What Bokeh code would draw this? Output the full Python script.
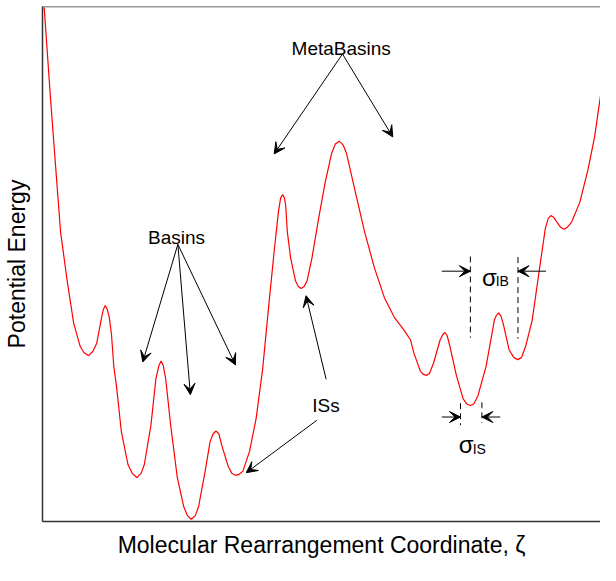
from bokeh.plotting import figure
from bokeh.models import Range1d, Label, Arrow, VeeHead, Span, FixedTicker, Title
from bokeh.embed import file_html
from bokeh.resources import INLINE

# Potential-energy landscape (zeta: coordinate, energy: arbitrary units)
zeta = [1.7, 8.3, 13.3, 18.3, 25, 31.7, 38.3, 42, 46.7, 51, 55, 60, 61.8, 63.7, 65.6, 67.7,
        70, 72.3, 75, 80, 86.7, 91, 95.7, 100, 103.3, 110, 115, 118.2, 120.3, 122.4, 125,
        130, 136.7, 143.3, 147, 151, 155, 158.3, 165, 170, 173, 176, 179, 181.7, 188.3, 192,
        195.7, 199.5, 203.3, 210, 216.7, 223.3, 230, 235, 239.3, 241.5, 243.7, 245.5, 246.7,
        248.3, 251.7, 256.7, 259.5, 262.3, 265.3, 268.3, 273.3, 280, 286.7, 293.3, 297, 301,
        305, 308.3, 316.7, 326.7, 336.7, 346.7, 356.7, 366.7, 373.3, 376.7, 383.3, 386, 389.3,
        392.5, 396.7, 403.3, 406, 408.3, 410.5, 413.3, 420, 426.7, 430.5, 434, 437.5, 441.7,
        450, 458.3, 460.5, 462.7, 465, 467.3, 473.3, 478, 482, 486, 490, 496.7, 503.3, 510,
        513, 515.7, 518.5, 521.7, 525.5, 529, 532.5, 536.7, 545, 553.3, 560, 566]
energy = [523, 428, 361.3, 295, 245, 201.3, 178, 172, 168.7, 173, 181.3, 208, 216, 219.7, 216, 208,
          190, 158, 138, 91.3, 58, 49, 44.7, 49, 58, 98, 145, 159, 163.3, 159, 145,
          98, 45, 15, 6, 2.3, 6, 15, 51.3, 81.3, 89, 92.3, 89, 78, 56.3, 49,
          47, 48, 51.3, 71.3, 105, 155, 225, 275, 315, 329, 332.7, 329, 321.3,
          295, 268, 244.7, 239, 237, 239, 244.7, 268, 308, 344.7, 374.7, 384, 387,
          383, 374.7, 338, 294.7, 258, 228, 208, 194.7, 184.7, 171.3, 153, 150, 148.7,
          150.5, 161.3, 184.7, 190, 192.3, 189, 178, 148, 124.7, 119.5, 118, 119.5, 128,
          158, 204.7, 210, 212.3, 209, 201.3, 174.7, 167, 164.7, 167, 178, 204.7, 251.3, 298,
          308.5, 311.3, 309.5, 304.7, 299.5, 297.3, 299.5, 304.7, 324.7, 358, 391.3, 433]

x_title = "Molecular Rearrangement Coordinate, ζ"
y_title = "Potential Energy"

FONT = "Liberation Sans"

p = figure(width=600, height=565, output_backend="svg", toolbar_location=None,
           x_range=Range1d(0, 566), y_range=Range1d(0, 524),
           min_border_left=42, min_border_right=0, min_border_top=6, min_border_bottom=43)
p.outline_line_color = None
p.grid.visible = False
p.background_fill_color = "white"
p.border_fill_color = "white"

for ax in (p.xaxis[0], p.yaxis[0]):
    ax.ticker = FixedTicker(ticks=[], minor_ticks=[])
    ax.major_tick_out = 0
    ax.major_tick_in = 0
    ax.minor_tick_out = 0
    ax.minor_tick_in = 0
    ax.major_label_text_font_size = "0px"
    ax.major_label_standoff = 0
    ax.axis_line_color = "#333333"
    ax.axis_line_width = 1.5

p.yaxis.axis_label = y_title
p.yaxis.axis_label_text_font = FONT
p.yaxis.axis_label_text_font_size = "23px"
p.yaxis.axis_label_text_font_style = "normal"
p.yaxis.axis_label_text_color = "black"
p.yaxis.axis_label_standoff = 13

p.add_layout(Title(text=x_title, align="center", offset=8, standoff=16,
                   text_font=FONT, text_font_size="23px", text_font_style="normal",
                   text_color="black"), "below")

p.add_layout(Span(location=524, dimension="width", line_color="#333333", line_width=1.5))

p.line(zeta, energy, line_color="red", line_width=1.2)

# annotations
def arrow(x0, y0, x1, y1):
    p.add_layout(Arrow(end=VeeHead(size=11, fill_color="black", line_color="black", line_width=1),
                       x_start=x0, y_start=y0, x_end=x1, y_end=y1,
                       line_color="black", line_width=1))

def label(x, y, text, size="19px", align="center"):
    p.add_layout(Label(x=x, y=y, text=text, text_font=FONT, text_font_size=size,
                       text_align=align, text_baseline="alphabetic", text_color="black"))

label(303, 481, "MetaBasins")
arrow(304.3, 475.7, 235, 374)
arrow(304.3, 475.7, 355.3, 391.3)

label(136, 288.5, "Basins")
arrow(137.3, 282, 101.7, 162.3)
arrow(137.3, 282, 150, 129)
arrow(137.3, 282, 195.7, 159.3)

label(287.5, 118, "ISs")
arrow(287.7, 144.7, 267.3, 229.7)
arrow(278.3, 103, 206.7, 49.7)

# sigma_IB
p.segment(x0=[434, 482.3], y0=[269.7, 269], x1=[434, 482.3], y1=[187, 186],
          line_color="black", line_width=1, line_dash="6 4")
arrow(405, 254.7, 434, 254.7)
arrow(510.7, 254.7, 482.3, 254.7)
label(445.7, 248, "σ", size="24px", align="left")
label(459.7, 244.7, "IB", size="14px", align="left")

# sigma_IS
p.segment(x0=[424, 445.7], y0=[120.3, 121.3], x1=[424, 445.7], y1=[98, 100.3],
          line_color="black", line_width=1, line_dash="6 4")
arrow(405, 106.3, 424, 106.3)
arrow(464.3, 106.3, 445.7, 106.3)
label(422.3, 78, "σ", size="24px", align="left")
label(436.3, 73.7, "IS", size="14px", align="left")

open("out.html", "w").write(file_html(p, INLINE))
